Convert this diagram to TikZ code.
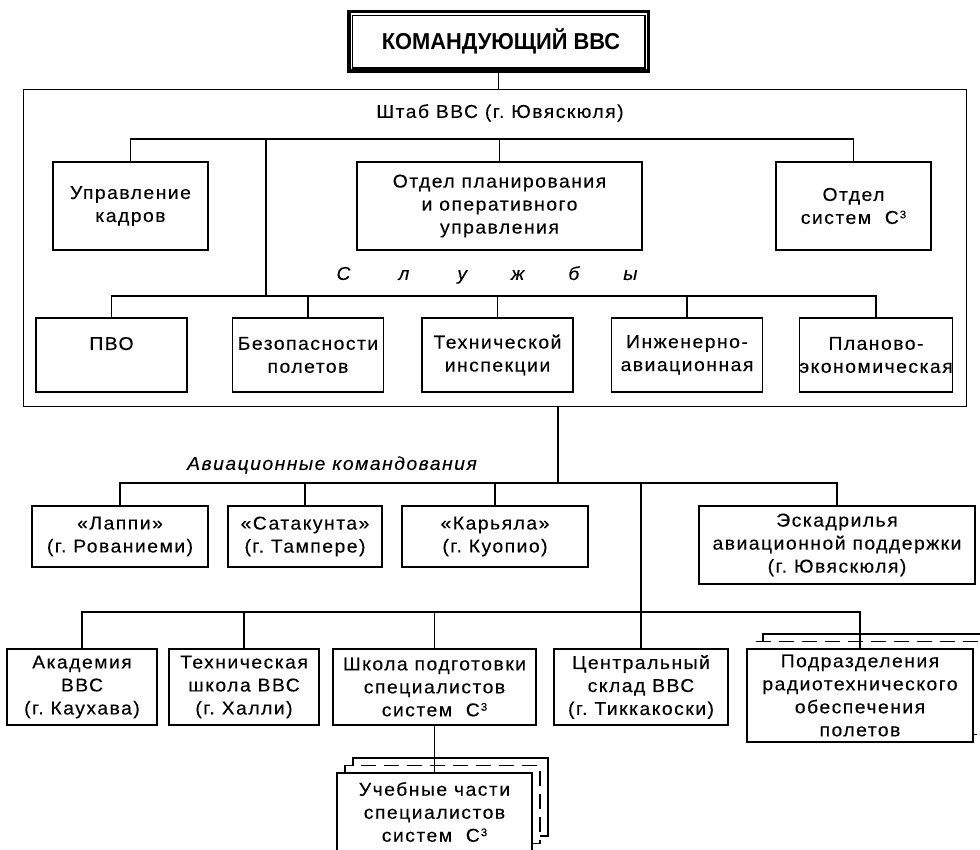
\documentclass[tikz,border=0pt]{standalone}
\usepackage{fontspec}
\setmainfont{Liberation Sans}[LetterSpace=8, FakeStretch=1.04, FakeBold=0.2]
\newfontfamily\headfont{Liberation Sans}[LetterSpace=0, FakeStretch=0.95]
\usetikzlibrary{shadows}
\newcommand\boxfont{\fontsize{18.6}{23}\selectfont}
\newcommand\cthree{С\hspace{1pt}\raisebox{5.6pt}{\fontsize{11}{11}\selectfont 3}}
\begin{document}
\begin{tikzpicture}[x=1pt,y=-1pt,
  link/.style={line width=1.1pt},
  unit/.style={draw, line width=1.1pt, fill=white, inner sep=0pt, align=center, font=\boxfont},
  svc/.style={unit, minimum width=151, minimum height=74},
  cmdunit/.style={unit, minimum height=61},
  lowunit/.style={unit, minimum height=76},
  stacked/.style={
    copy shadow={shadow xshift=16pt, shadow yshift=15pt, draw=black, fill=white, line width=1.1pt},
    copy shadow={shadow xshift=8pt, shadow yshift=7.5pt, draw=black, fill=white, line width=1.1pt, dash pattern=on 15pt off 8pt}},
  caption/.style={font=\boxfont\itshape, inner sep=0pt}]
\useasboundingbox (0,0) rectangle (980,850);
\clip (0,0) rectangle (980,850);

% commander
\node[draw, line width=3.5pt, minimum width=299.5, minimum height=59.5, inner sep=0pt,
      font=\headfont\bfseries\fontsize{23}{26}\selectfont] (cmd) at (498.5,41.5) {\hspace{5pt}КОМАНДУЮЩИЙ ВВС};
\draw[link] ([shift={(5.5,5.5)}]cmd.north west) rectangle ([shift={(-5,-5)}]cmd.south east);

% staff frame
\node[draw, double, double distance=1.8pt, line width=0.8pt, minimum width=940.6,
      minimum height=314.6, inner sep=0pt] (staff) at (495,248) {};
\node[font=\boxfont, inner sep=0pt] (stitle) at (500,113) {Штаб ВВС (г.\ Ювяскюля)};

\node[unit, minimum width=155, minimum height=88] (uk) at (130.5,206) {Управление\\кадров};
\node[unit, minimum width=285, minimum height=88] (op) at (499.5,206) {Отдел планирования\\и оперативного\\управления};
\node[unit, minimum width=155, minimum height=88] (oc3) at (853.5,206) {Отдел\\систем~ \cthree};

\node[caption] (slu) at (487,275) {С\hskip 48pt л\hskip 48pt у\hskip 44pt ж\hskip 44pt б\hskip 44pt ы};

\node[svc] (pvo) at (111.5,355) {ПВО\\\mbox{}};
\node[svc] (bez) at (308,355) {Безопасности\\полетов};
\node[svc] (teh) at (497.5,355) {Технической\\инспекции};
\node[svc] (ing) at (687,355) {Инженерно-\\авиационная};
\node[svc] (plan) at (876,355) {Планово-\\экономическая};

% air commands
\node[caption] (avk) at (332,465) {Авиационные командования};
\node[cmdunit, minimum width=176] (lap) at (120,536.5) {«Лаппи»\\(г.\ Рованиеми)};
\node[cmdunit, minimum width=154] (sat) at (305,536.5) {«Сатакунта»\\(г.\ Тампере)};
\node[cmdunit, minimum width=186] (kar) at (495,536.5) {«Карьяла»\\(г.\ Куопио)};
\node[unit, minimum width=276, minimum height=78] (esk) at (837,545) {Эскадрилья\\авиационной поддержки\\(г.\ Ювяскюля)};

% lower row
\node[lowunit, minimum width=150] (aka) at (82,687) {Академия\\ВВС\\(г.\ Каухава)};
\node[lowunit, minimum width=150] (tec) at (244,687) {Техническая\\школа ВВС\\(г.\ Халли)};
\node[lowunit, minimum width=203] (shk) at (434.5,687) {Школа подготовки\\специалистов\\систем~ \cthree};
\node[lowunit, minimum width=174] (cen) at (641,687) {Центральный\\склад ВВС\\(г.\ Тиккакоски)};
\node[unit, stacked, minimum width=226, minimum height=93] (pod) at (860,695.5) {Подразделения\\радиотехнического\\обеспечения\\полетов};
\node[unit, stacked, minimum width=195, minimum height=78] (uch) at (434.5,812) {Учебные части\\специалистов\\систем~ \cthree};

% connectors inside the staff
\coordinate (topbus) at (266,139);
\coordinate (midbus) at (266,296);
\draw[link] (cmd.south) -- (cmd.south |- staff.north);
\draw[link] (uk.north) |- (topbus) -| (oc3.north);
\draw[link] (op.north) -- (op.north |- topbus);
\draw[link] (topbus) -- (midbus);
\draw[link] (pvo.north) |- (midbus) -| (plan.north);
\draw[link] (bez.north) -- (bez.north |- midbus);
\draw[link] (teh.north) -- (teh.north |- midbus);
\draw[link] (ing.north) -- (ing.north |- midbus);

% connectors below the staff
\coordinate (cmdbus) at (558,483);
\coordinate (lowbus) at (642,612);
\draw[link] (cmdbus |- staff.south) -- (cmdbus);
\draw[link] (lap.north) |- (cmdbus) -| (esk.north);
\draw[link] (sat.north) -- (sat.north |- cmdbus);
\draw[link] (kar.north) -- (kar.north |- cmdbus);
\draw[link] (cen.north |- cmdbus) -- (cen.north);
\draw[link] (aka.north) |- (lowbus) -| (pod.north);
\draw[link] (tec.north) -- (tec.north |- lowbus);
\draw[link] (shk.north) -- (shk.north |- lowbus);
\draw[link] (shk.south) -- (uch.north);
\end{tikzpicture}
\end{document}
